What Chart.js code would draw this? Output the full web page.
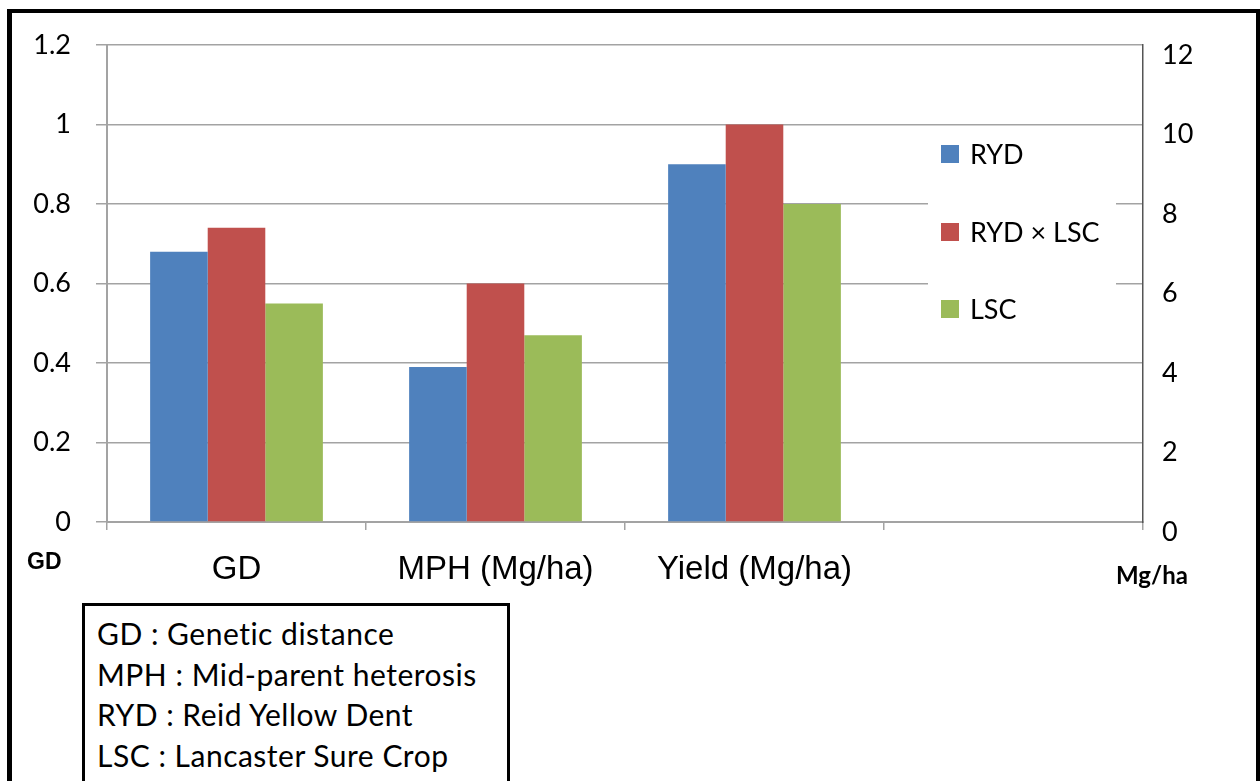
<!DOCTYPE html>
<html>
<head>
<meta charset="utf-8">
<script src="https://cdn.jsdelivr.net/npm/chart.js@4.4.1/dist/chart.umd.min.js"></script>
<style>
  html, body { margin: 0; padding: 0; background: #fff; }
  #wrap { position: relative; width: 1260px; height: 781px; overflow: hidden; background: #fff; }
  #c { position: absolute; left: 0; top: 0; }
  #frame { position: absolute; left: 7px; top: 9px; width: 1244px; height: 800px;
    border-left: 5px solid #000; border-top: 4px solid #000; border-right: 5px solid #000; }
  #note { position: absolute; left: 82px; top: 603px; width: 422px; height: 200px;
    border: 3.5px solid #000; background: #fff; font-family: Lato, "Open Sans", sans-serif;
    font-size: 30px; letter-spacing: 0.5px; color: #000; }
  #note div { position: absolute; left: 12px; white-space: nowrap; line-height: 36px; }
</style>
</head>
<body>
<div id="wrap">
  <canvas id="c" width="1260" height="781"></canvas>
  <div id="frame"></div>
  <div id="note">
    <div style="top:9px">GD : Genetic distance</div>
    <div style="top:50px">MPH : Mid-parent heterosis</div>
    <div style="top:90px">RYD : Reid Yellow Dent</div>
    <div style="top:131px">LSC : Lancaster Sure Crop</div>
  </div>
</div>
<script>
const categories = ['GD', 'MPH (Mg/ha)', 'Yield (Mg/ha)', ''];
const seriesNames = ['RYD', 'RYD \u00d7 LSC', 'LSC'];
const rydValues = [0.68, 0.39, 0.90, null];
const crossValues = [0.74, 0.60, 1.00, null];
const lscValues = [0.55, 0.47, 0.80, null];
const leftTicks = { min: 0, max: 1.2, step: 0.2 };
const rightTicks = { min: 0, max: 12, step: 2 };
const colors = ['#4F81BD', '#C0504D', '#9BBB59'];

const gridColor = '#a3a3a3';

const overlayPlugin = {
  id: 'overlay',
  afterDatasetsDraw(chart) {
    const ctx = chart.ctx;
    ctx.save();
    ctx.fillStyle = '#fff';
    ctx.fillRect(928, 132, 188, 206);
    const ys = [154, 232, 309];
    ctx.font = '27px Lato, "Open Sans", sans-serif';
    ctx.textBaseline = 'middle';
    ctx.textAlign = 'left';
    chart.data.datasets.forEach((ds, i) => {
      ctx.fillStyle = ds.backgroundColor;
      ctx.fillRect(941, ys[i] - 9, 18, 18);
      ctx.fillStyle = '#000';
      ctx.fillText(ds.label, 970, ys[i] + 1);
    });
    ctx.font = 'bold 23px "Liberation Sans", Arial, sans-serif';
    ctx.textAlign = 'left';
    ctx.textBaseline = 'alphabetic';
    ctx.fillText('GD', 27, 569);
    ctx.font = 'bold 24px Lato, "Open Sans", sans-serif';
    ctx.fillText('Mg/ha', 1116, 584);
    ctx.restore();
  }
};

new Chart(document.getElementById('c'), {
  type: 'bar',
  data: {
    labels: categories,
    datasets: [
      { label: seriesNames[0], data: rydValues, backgroundColor: colors[0], yAxisID: 'y' },
      { label: seriesNames[1], data: crossValues, backgroundColor: colors[1], yAxisID: 'y' },
      { label: seriesNames[2], data: lscValues, backgroundColor: colors[2], yAxisID: 'y' }
    ]
  },
  options: {
    responsive: false,
    animation: false,
    devicePixelRatio: 1,
    layout: { padding: { left: 0, right: 0, top: 45, bottom: 0 } },
    datasets: { bar: { categoryPercentage: 0.667, barPercentage: 1.0 } },
    plugins: { legend: { display: false }, tooltip: { enabled: false } },
    scales: {
      x: {
        offset: true,
        grid: { display: true, drawOnChartArea: false, drawTicks: true, tickLength: 8, color: gridColor, lineWidth: 1.5, offset: true },
        border: { display: true, color: gridColor, width: 2 },
        ticks: { color: '#000', font: { family: '"Liberation Sans", Arial, sans-serif', size: 33 }, padding: 20, maxRotation: 0, autoSkip: false },
        afterFit(scale) { scale.height = 259; }
      },
      y: {
        position: 'left',
        min: leftTicks.min, max: leftTicks.max,
        grid: { color: gridColor, lineWidth: 1.5, tickLength: 11 },
        border: { display: true, color: gridColor, width: 2 },
        ticks: { stepSize: leftTicks.step, color: '#000', font: { family: 'Lato, "Open Sans", sans-serif', size: 27 }, padding: 25,
          callback: (v) => String(Number(v.toFixed(1))) },
        afterFit(scale) { scale.width = 107; }
      },
      y2: {
        position: 'right',
        min: rightTicks.min, max: rightTicks.max,
        grid: { display: true, drawOnChartArea: false, drawTicks: false },
        border: { display: true, color: '#555', width: 1.5 },
        ticks: { stepSize: rightTicks.step, color: '#000', font: { family: 'Lato, "Open Sans", sans-serif', size: 27 }, padding: 19, labelOffset: 10 },
        afterFit(scale) { scale.width = 117; }
      }
    }
  },
  plugins: [overlayPlugin]
});
</script>
</body>
</html>
